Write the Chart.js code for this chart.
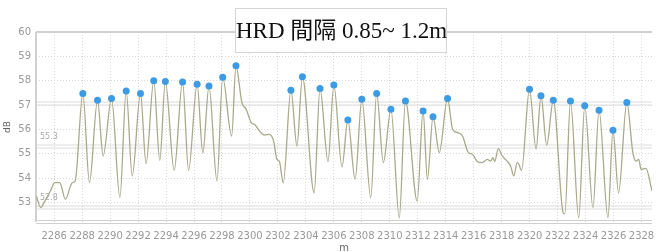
<!DOCTYPE html>
<html>
<head>
<meta charset="utf-8">
<script src="https://cdn.jsdelivr.net/npm/chart.js"></script>
<style>
	html, body { margin: 0; padding: 0; background: #fff; }
	#wrap { position: relative; width: 656px; height: 252px; }
	#title {
		position: absolute; left: 235px; top: 8px; width: 212px; height: 45px;
		box-sizing: border-box; border: 1px solid #d6d6d6; background: #fff;
		font-family: "Liberation Serif", "Noto Sans CJK TC", serif; font-size: 23px;
		line-height: 43px; text-align: center; color: #111; white-space: nowrap;
	}
</style>
</head>
<body>
<div id="wrap">
	<canvas id="mycanvas" width="656" height="252"></canvas>
	<div id="title">HRD 間隔 0.85~ 1.2m</div>
</div>
<script>
// distance (m) and level (dB) along the measured line
var dist = [2284.73, 2285.04, 2285.33, 2285.73, 2286.04, 2286.4, 2286.8, 2287.3, 2287.5, 2288.05,
	2288.52, 2289.1, 2289.5, 2290.1, 2290.7, 2291.15, 2291.58, 2292.17, 2292.57, 2293.12,
	2293.55, 2293.95, 2294.58, 2295.18, 2295.61, 2296.22, 2296.63, 2297.07, 2297.64, 2298.05,
	2298.69, 2299.0, 2299.42, 2299.73, 2300.09, 2300.32, 2300.68, 2301.03, 2301.39, 2301.69,
	2301.93, 2302.1, 2302.38, 2302.93, 2303.36, 2303.75, 2304.59, 2305.01, 2305.58, 2306.0,
	2306.58, 2307.0, 2307.52, 2308.0, 2308.64, 2309.06, 2309.54, 2310.08, 2310.68, 2311.12,
	2311.96, 2312.38, 2312.69, 2313.09, 2313.54, 2314.13, 2314.49, 2314.84, 2315.2, 2315.62,
	2315.91, 2316.26, 2316.62, 2316.97, 2317.21, 2317.38, 2317.5, 2317.76, 2318.04, 2318.4,
	2318.64, 2318.87, 2319.11, 2319.23, 2319.42, 2319.99, 2320.46, 2320.81, 2321.22, 2321.69,
	2322.4, 2322.52, 2322.92, 2323.51, 2323.94, 2324.53, 2324.96, 2325.6, 2325.96, 2326.36,
	2326.95, 2327.38, 2327.61, 2327.8, 2327.97, 2328.32, 2328.75];
var level = [53.26, 52.79, 53.06, 53.47, 53.82, 53.82, 53.13, 53.82, 53.88, 57.48,
	53.82, 57.2, 54.91, 57.27, 53.2, 57.58, 54.09, 57.48, 54.6, 58.0,
	54.73, 57.97, 54.32, 57.95, 54.32, 57.86, 55.03, 57.78, 53.88, 58.14,
	55.73, 58.61, 57.11, 56.83, 56.28, 56.21, 55.94, 55.77, 55.8, 55.53,
	54.77, 54.7, 53.81, 57.61, 55.32, 58.16, 53.4, 57.68, 54.68, 57.82,
	54.46, 56.39, 53.95, 57.24, 53.2, 57.48, 54.64, 56.83, 52.37, 57.17,
	53.06, 56.76, 53.95, 56.52, 55.05, 57.27, 56.01, 55.87, 55.73, 55.05,
	54.98, 54.68, 54.64, 54.77, 54.7, 54.84, 54.68, 55.21, 54.91, 54.7,
	54.5, 54.09, 54.64, 54.57, 54.32, 57.65, 55.19, 57.38, 55.36, 57.2,
	52.58, 52.54, 57.17, 52.37, 56.97, 52.79, 56.79, 52.37, 55.97, 53.4,
	57.11, 55.05, 54.7, 54.77, 54.36, 54.4, 53.47];

// detected peaks
var peakDist = [2288.05, 2289.1, 2290.1, 2291.15, 2292.17, 2293.12, 2293.95, 2295.18, 2296.22, 2297.07,
	2298.05, 2299.0, 2302.93, 2303.75, 2305.01, 2306.0, 2307.0, 2308.0, 2309.06, 2310.08,
	2311.12, 2312.38, 2313.09, 2314.13, 2319.99, 2320.81, 2321.69, 2322.92, 2323.94, 2324.96,
	2325.96, 2326.95];
var peakLevel = [57.48, 57.2, 57.27, 57.58, 57.48, 58.0, 57.97, 57.95, 57.86, 57.78,
	58.14, 58.61, 57.61, 58.16, 57.68, 57.82, 56.39, 57.24, 57.48, 56.83,
	57.17, 56.76, 56.52, 57.27, 57.65, 57.38, 57.2, 57.17, 56.97, 56.79,
	55.97, 57.11];

var xTicks = [2286, 2288, 2290, 2292, 2294, 2296, 2298, 2300, 2302, 2304, 2306,
	2308, 2310, 2312, 2314, 2316, 2318, 2320, 2322, 2324, 2326, 2328];
var yTicks = [53, 54, 55, 56, 57, 58, 59, 60];

// reference levels (double lines) and their labels
var refLevels = [57.08, 55.3, 52.82];
var refLabels = ['', '55.3', '52.8'];

var linePoints = [];
for (var i in dist) {
	linePoints.push({x: dist[i], y: level[i]});
}
var peakPoints = [];
for (var j in peakDist) {
	peakPoints.push({x: peakDist[j], y: peakLevel[j]});
}

var frame = {
	id: 'frame',
	beforeDatasetsDraw: function(chart) {
		var c = chart.ctx, a = chart.chartArea, ys = chart.scales.y;
		c.save();
		c.strokeStyle = '#dcdcdc';
		c.lineWidth = 1;
		for (var k = 0; k < refLevels.length; k++) {
			var py = Math.round(ys.getPixelForValue(refLevels[k])) + 0.5;
			c.beginPath();
			c.moveTo(a.left, py - 1.5); c.lineTo(a.right, py - 1.5);
			c.moveTo(a.left, py + 1.5); c.lineTo(a.right, py + 1.5);
			c.stroke();
			if (refLabels[k]) {
				c.fillStyle = '#aaa';
				c.font = '8px "DejaVu Sans"';
				c.textBaseline = 'bottom';
				c.fillText(refLabels[k], a.left + 4, py - 6);
			}
		}
		// frame
		c.strokeStyle = '#d0d0d0';
		c.lineWidth = 2;
		c.beginPath();
		c.moveTo(a.left, a.top); c.lineTo(a.right, a.top);
		c.moveTo(a.left, a.top); c.lineTo(a.left, a.bottom);
		c.stroke();
		c.lineWidth = 1;
		c.beginPath();
		c.moveTo(a.left, a.bottom - 1.5); c.lineTo(a.right, a.bottom - 1.5);
		c.moveTo(a.left, a.bottom + 1.5); c.lineTo(a.right, a.bottom + 1.5);
		c.stroke();
		c.restore();
	}
};

var ctx = document.getElementById('mycanvas');

var lineChart = new Chart(ctx, {
	type: 'line',
	data: {
		datasets: [
			{
				label: 'peaks',
				data: peakPoints,
				showLine: false,
				pointRadius: 3.5,
				pointBackgroundColor: '#3d9be6',
				pointBorderColor: '#3d9be6',
				pointBorderWidth: 0
			},
			{
				label: 'level',
				data: linePoints,
				borderColor: '#a9a98c',
				borderWidth: 1.3,
				pointRadius: 0,
				cubicInterpolationMode: 'monotone'
			}
		]
	},
	options: {
		responsive: false,
		animation: false,
		devicePixelRatio: 1,
		layout: { padding: { top: 32, right: 0, left: 0, bottom: 0 } },
		plugins: {
			legend: { display: false },
			tooltip: { enabled: false }
		},
		scales: {
			x: {
				type: 'linear',
				min: 2284.7,
				max: 2328.75,
				afterBuildTicks: function(s) {
					s.ticks = xTicks.map(function(v) { return {value: v}; });
				},
				afterFit: function(s) {
					s.height = 30;
					s.paddingLeft = 0;
					s.paddingRight = 0;
				},
				ticks: {
					color: '#999',
					font: { size: 10, family: 'DejaVu Sans' },
					padding: 8,
					maxRotation: 0,
					autoSkip: false,
					callback: function(v) { return String(v); }
				},
				grid: { color: '#d8d8d8', drawTicks: false },
				border: { display: false, dash: [1, 2] },
				title: { display: true, text: 'm', color: '#666', font: { size: 10, family: 'DejaVu Sans' }, padding: { top: 0, bottom: -2 } }
			},
			y: {
				min: 52.2,
				max: 60,
				afterBuildTicks: function(s) {
					s.ticks = yTicks.map(function(v) { return {value: v}; });
				},
				afterFit: function(s) {
					s.width = 36;
					s.paddingTop = 0;
					s.paddingBottom = 0;
				},
				ticks: {
					color: '#999',
					font: { size: 10, family: 'DejaVu Sans' },
					padding: 5
				},
				grid: { color: '#d8d8d8', drawTicks: false },
				border: { display: false, dash: [1, 2] },
				title: { display: true, text: 'dB', color: '#666', font: { size: 9, family: 'DejaVu Sans' }, padding: { top: 2, bottom: 0 } }
			}
		}
	},
	plugins: [frame]
});
</script>
</body>
</html>
